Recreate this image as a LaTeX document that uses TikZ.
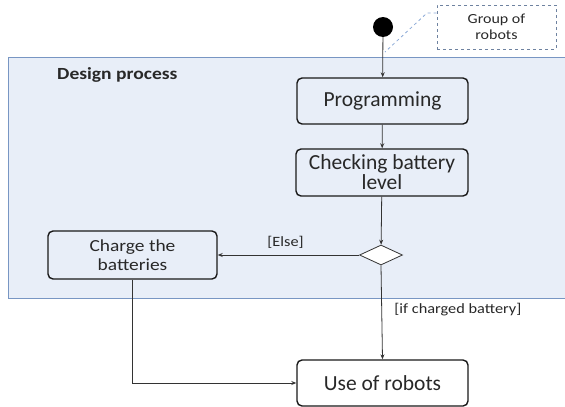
\documentclass[tikz,border=0pt]{standalone}
\usepackage{fontspec}
\usepackage{graphicx}
\setmainfont{Carlito}
\usetikzlibrary{arrows.meta,shapes.geometric}
\definecolor{lanefill}{RGB}{232,238,248}
\definecolor{laneline}{RGB}{120,150,195}
\definecolor{noteline}{RGB}{110,130,160}
\definecolor{calloutline}{RGB}{140,170,215}
\definecolor{txt}{RGB}{40,40,40}
\newcommand{\wideT}[1]{\scalebox{1.15}[1]{#1}}
\tikzset{
  act/.style={draw=black!90,line width=1.4pt,rounded corners=5pt,fill=lanefill,align=center,text=txt,inner sep=0pt},
  bigtext/.style={font=\fontsize{21.5}{20}\selectfont},
  flow/.style={draw=black!80,line width=0.8pt,-{Stealth[length=5pt,width=4pt]}},
  guard/.style={font=\fontsize{14.2}{16}\selectfont,text=txt},
}
\begin{document}
\begin{tikzpicture}[x=1pt,y=-1pt]
\useasboundingbox (0,0) rectangle (565,407);
% lane
\fill[lanefill] (8,57) rectangle (565,298);
\draw[laneline,line width=0.9pt] (565,57) -- (8,57) -- (8,298) -- (565,298);
\node[font=\bfseries\fontsize{17}{19}\selectfont,text=txt,anchor=west,inner sep=0pt] (title) at (57,75) {\wideT{Design process}};
% start
\node[circle,fill=black,minimum size=20pt,inner sep=0pt] (start) at (383,27) {};
% note
\node[draw=noteline,dashed,line width=0.8pt,minimum width=119pt,minimum height=44pt,align=center,font=\fontsize{13.9}{15.5}\selectfont,text=txt] (note) at (496.5,27) {\wideT{Group of}\\\wideT{robots}};
\coordinate (nk) at (427,13);
\coordinate (ne) at (385,52);
\draw[calloutline,dashed,line width=0.8pt] (note.west |- nk) -- (nk) -- (ne);
% activities
\node[act,bigtext,minimum width=171pt,minimum height=46pt] (prog) at (382.5,101) {Programming};
\node[act,bigtext,minimum width=172pt,minimum height=47pt] (check) at (382,172.5) {Checking battery\\level};
\node[draw=black!80,line width=0.8pt,diamond,fill=white,minimum width=43pt,minimum height=20pt,inner sep=0pt] (dec) at (381,255) {};
\node[act,minimum width=169pt,minimum height=48pt,font=\fontsize{16.9}{19}\selectfont] (charge) at (132.5,255) {\wideT{Charge the}\\\wideT{batteries}};
\node[act,bigtext,fill=white,minimum width=171pt,minimum height=46pt] (use) at (382.5,383) {Use of robots};
% flows
\draw[flow] (start) -- (prog);
\draw[flow] (prog) -- (check);
\draw[flow] (check) -- (dec);
\draw[flow] (dec.west) -- node[guard,above,pos=0.52,yshift=3pt] {\wideT{[Else]}} (charge.east);
\draw[flow] (dec.south) -- node[guard,right,pos=0.47,xshift=9pt] {\wideT{[if charged battery]}} (use.north);
\draw[flow] (charge.south) |- (use.west);
\end{tikzpicture}
\end{document}
